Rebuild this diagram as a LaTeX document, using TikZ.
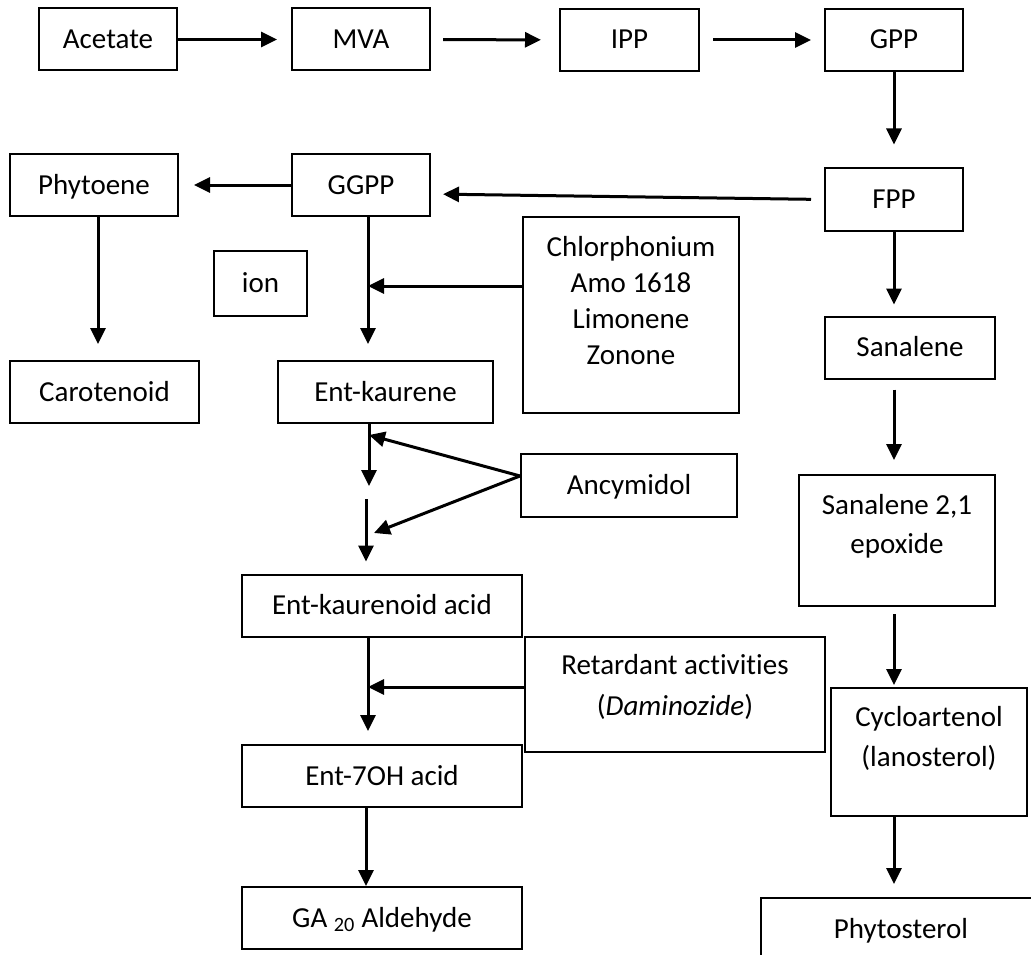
\documentclass[tikz,border=0pt]{standalone}
\usepackage{fontspec}
\setmainfont{Carlito}[Ligatures=NoCommon]
\usepackage{tikz}
\usetikzlibrary{
  arrows.meta
}

\begin{document}
\begin{tikzpicture}[
  x=1pt, y=-1pt,
  font=\fontsize{29}{36}\selectfont,
  box/.style={
     rectangle,
     draw,
     line width=2pt,
     minimum height=62pt,
     inner sep=0pt,
     text height=22pt,
     text depth=4pt
  },
  boxtext/.style={
     align=center,
     yshift=14pt
  },
  flow/.style={-{Triangle[length=16pt,width=15pt]}, line width=3pt}
]
   % page size of the original figure
   \useasboundingbox (0,0) rectangle (1031,955);
   \clip (0,0) rectangle (1031,955);

   % The top row
   \node[box,minimum width=138pt] (acetate) at (108,39.5) {Acetate};
   \node[box,minimum width=138pt] (mva) at (361,39.5) {MVA};
   \node[box,minimum width=139pt] (ipp) at (629.5,40) {IPP};
   \node[box,minimum width=138pt] (gpp) at (894,40) {GPP};

   % The GGPP branch
   \node[box,minimum width=138pt] (fpp) at (894,199.5) {FPP};
   \node[box,minimum width=138pt] (ggpp) at (361,185) {GGPP};
   \node[box,minimum width=168pt] (phytoene) at (94,185) {Phytoene};
   \node[box,minimum width=189pt] (carot) at (104.5,392) {Carotenoid};
   \node[box,minimum width=93pt,minimum height=65pt] (ion) at (260.5,283.5) {ion};
   \node[box,minimum width=215pt] (entkaur) at (385.5,392) {Ent-kaurene};
   \node[box,minimum width=280pt] (entacid) at (382,605.5) {Ent-kaurenoid acid};
   \node[box,minimum width=280pt] (entoh) at (382,776) {Ent-7OH acid};
   \node[box,minimum width=280pt] (ga) at (382,918) {GA \textsubscript{20} Aldehyde};

   % The inhibitors
   \node[box,minimum width=216pt,minimum height=196pt,
         label={[boxtext]center:{Chlorphonium\\Amo 1618\\Limonene\\Zonone}}] (chlor) at (631,315) {};
   \node[box,minimum width=216pt,minimum height=63pt] (ancy) at (629,485.5) {Ancymidol};
   \node[box,minimum width=300pt,minimum height=115pt,
         label={[boxtext,yshift=-6.5pt]center:{Retardant activities\\[5pt](\textit{Daminozide})}}] (retard) at (675,694.5) {};

   % The sterol branch
   \node[box,minimum width=170pt] (sanal) at (910,347.5) {Sanalene};
   \node[box,minimum width=196pt,minimum height=131pt,
         label={[boxtext]center:{Sanalene 2,1\\[3pt]epoxide}}] (epox) at (897,540.5) {};
   \node[box,minimum width=196pt,minimum height=128pt,
         label={[boxtext]center:{Cycloartenol\\[4pt](lanosterol)}}] (cyclo) at (929,752) {};
   \node[box,minimum width=280pt] (phyto) at (901,929) {Phytosterol};

   % The connecting arrows of the top row
   \draw[flow,shorten >=14pt] (acetate) -- (mva);
   \draw[flow,shorten <=12pt,shorten >=18pt] (mva) -- (ipp);
   \draw[flow,shorten <=13pt,shorten >=13pt] (ipp) -- (gpp);
   \draw[flow,shorten >=23pt] (gpp) -- (gpp |- fpp.north);

   % GGPP and its products
   \draw[flow,shorten <=13pt,shorten >=12pt] (fpp.west) -- ([yshift=-9pt]ggpp.east);
   \draw[flow,shorten >=15pt] (ggpp) -- (phytoene);
   \draw[flow,shorten >=16pt] ([xshift=4pt]phytoene.south) -- ([xshift=4pt]phytoene.south |- carot.north);
   \coordinate (kblock) at (368,286);
   \draw[flow,shorten >=16pt] (ggpp.south -| kblock) -- (entkaur.north -| kblock);
   \draw[flow] (chlor.west |- kblock) -- (kblock);

   % The broken step after ent-kaurene
   \coordinate (gapa) at (369,486);
   \coordinate (gapb) at (366,499);
   \draw[flow] (entkaur.south -| gapa) -- (gapa);
   \draw[flow,shorten >=12pt] (gapb) -- (entacid.north -| gapb);
   \coordinate (ablocka) at (369,435);
   \coordinate (ablockb) at (374,533);
   \draw[flow] (ancy.175) -- (ablocka);
   \draw[flow] (ancy.175) -- (ablockb);

   % Down to the aldehyde
   \coordinate (rblock) at (368,687);
   \draw[flow,shorten >=13pt] (entacid.south -| rblock) -- (entoh.north -| rblock);
   \draw[flow] (retard.west |- rblock) -- (rblock);
   \draw[flow] (entoh.south -| gapb) -- (ga.north -| gapb);

   % The sterol column
   \draw[flow,shorten >=11pt] (fpp.south) -- (fpp.south |- sanal.north);
   \draw[flow,shorten <=10pt,shorten >=14pt] (fpp.south |- sanal.south) -- (fpp.south |- epox.north);
   \draw[flow,shorten <=7pt,shorten >=2pt] (fpp.south |- epox.south) -- (fpp.south |- cyclo.north);
   \draw[flow,shorten >=13pt] (fpp.south |- cyclo.south) -- (fpp.south |- phyto.north);
\end{tikzpicture}
\end{document}
